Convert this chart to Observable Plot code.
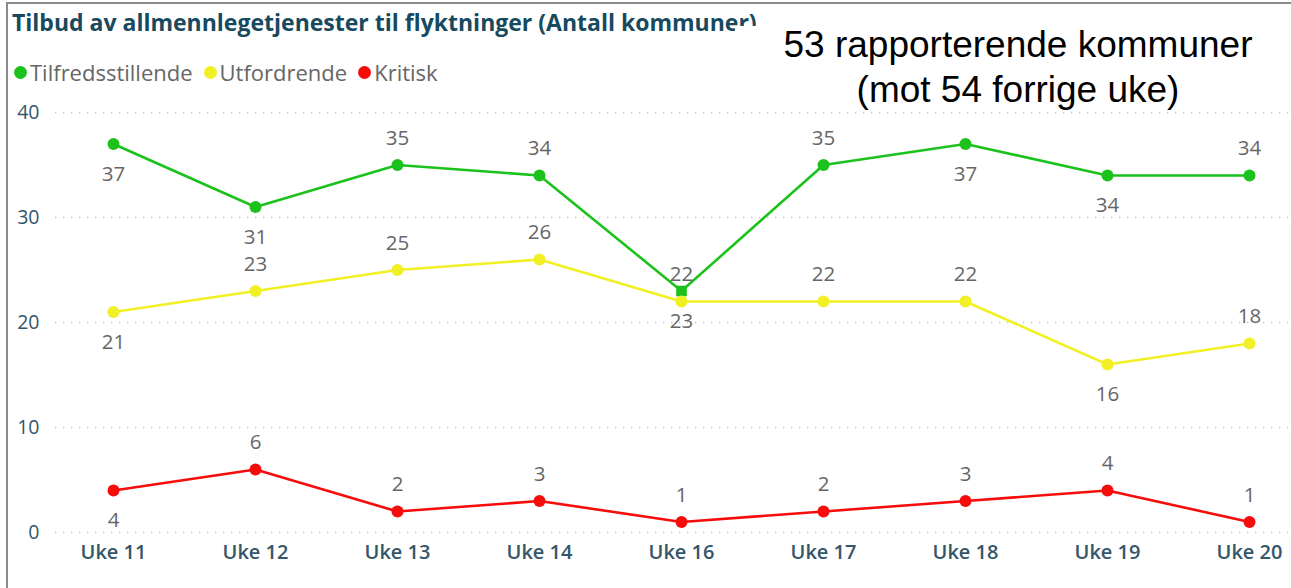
<!DOCTYPE html>
<html>
<head>
<meta charset="utf-8">
<script src="https://cdn.jsdelivr.net/npm/d3@7"></script>
<script src="https://cdn.jsdelivr.net/npm/@observablehq/plot@0.6"></script>
<style>
  html, body { margin: 0; padding: 0; background: #fff; }
  #wrap { position: relative; width: 1291px; height: 588px; overflow: hidden; font-family: "Open Sans", sans-serif; }
  #frame { position: absolute; left: 6px; top: 2px; width: 1400px; height: 700px; border-top: 2px solid #8c8c8c; border-left: 2px solid #8c8c8c; }
  #title { position: absolute; left: 12px; top: 11px; font-size: 23px; line-height: 23px; font-weight: 700; color: #174a5e; white-space: nowrap; }
  #legend { position: absolute; left: 14px; top: 58px; font-size: 22px; line-height: 28px; color: #666; white-space: nowrap; display: flex; align-items: center; }
  #legend .item { display: flex; align-items: center; margin-right: 11px; }
  #legend .sw { width: 13px; height: 13px; border-radius: 50%; margin-right: 3px; display: inline-block; }
  #note { position: absolute; left: 735px; top: 26px; width: 556px; height: 80px; background: #fff; color: #000;
          font-family: "Liberation Sans", Arial, sans-serif; font-size: 37px; line-height: 45px; text-align: center; }
  #note div { position: relative; left: 5px; top: -4px; }
  #chart { position: absolute; left: 0; top: 0; }
</style>
</head>
<body>
<div id="wrap">
  <div id="chart"></div>
  <div id="frame"></div>
  <div id="title">Tilbud av allmennlegetjenester til flyktninger (Antall kommuner)</div>
  <div id="legend"></div>
  <div id="note"><div>53 rapporterende kommuner<br>(mot 54 forrige uke)</div></div>
</div>
<script>
const weeks = ["Uke 11", "Uke 12", "Uke 13", "Uke 14", "Uke 16", "Uke 17", "Uke 18", "Uke 19", "Uke 20"];
const seriesNames = ["Tilfredsstillende", "Utfordrende", "Kritisk"];
const tilfredsstillende = [37, 31, 35, 34, 23, 35, 37, 34, 34];
const utfordrende = [21, 23, 25, 26, 22, 22, 22, 16, 18];
const kritisk = [4, 6, 2, 3, 1, 2, 3, 4, 1];
const tilfredsLabelSide = ["below", "below", "above", "above", "below", "above", "below", "below", "above"];
const utfordLabelSide = ["below", "above", "above", "above", "above", "above", "above", "below", "above"];
const kritiskLabelSide = ["below", "above", "above", "above", "above", "above", "above", "above", "above"];
const yTicks = [0, 10, 20, 30, 40];

const colors = ["#1cc21c", "#f0f024", "#f70c0c"];
const seriesValues = [tilfredsstillende, utfordrende, kritisk];
const seriesSides = [tilfredsLabelSide, utfordLabelSide, kritiskLabelSide];

const rows = [];
seriesNames.forEach((name, si) => {
  weeks.forEach((w, i) => {
    rows.push({series: name, week: w, value: seriesValues[si][i], side: seriesSides[si][i]});
  });
});

// legend
const legend = document.getElementById("legend");
seriesNames.forEach((name, i) => {
  const item = document.createElement("span");
  item.className = "item";
  item.innerHTML = `<span class="sw" style="background:${colors[i]}"></span>${name}`;
  legend.appendChild(item);
});

const tickColor = "#34566b";
const color = {domain: seriesNames, range: colors};

const plot = Plot.plot({
  width: 1291,
  height: 588,
  marginTop: 112,
  marginBottom: 56,
  marginLeft: 55,
  marginRight: 0,
  style: {fontFamily: "'Open Sans', sans-serif", background: "transparent", overflow: "visible"},
  x: {type: "point", domain: weeks, padding: 0.3445, align: 0.58, label: null},
  y: {domain: [0, 40], ticks: yTicks, label: null},
  color,
  marks: [
    Plot.ruleY(yTicks, {stroke: "#c4c4c4", strokeWidth: 1.3, strokeDasharray: "1.3,6.7"}),
    Plot.axisY({ticks: yTicks, tickSize: 0, tickPadding: 16, fontSize: 19.5, fill: tickColor, label: null}),
    Plot.axisX({tickSize: 0, tickPadding: 12, fontSize: 20, fontWeight: 600, fill: tickColor, label: null}),
    Plot.line(rows, {x: "week", y: "value", z: "series", stroke: "series", strokeWidth: 2.6}),
    Plot.dot(rows, {
      x: "week", y: "value", fill: "series", r: 6,
      symbol: d => (d.series === "Tilfredsstillende" && d.week === "Uke 16") ? "square" : "circle"
    }),
    Plot.text(rows.filter(d => d.side === "above"), {x: "week", y: "value", text: d => String(d.value), dy: -27, fontSize: 20.5, fill: "#666"}),
    Plot.text(rows.filter(d => d.side === "below"), {x: "week", y: "value", text: d => String(d.value), dy: 30, fontSize: 20.5, fill: "#666"})
  ]
});
document.getElementById("chart").appendChild(plot);
</script>
</body>
</html>
